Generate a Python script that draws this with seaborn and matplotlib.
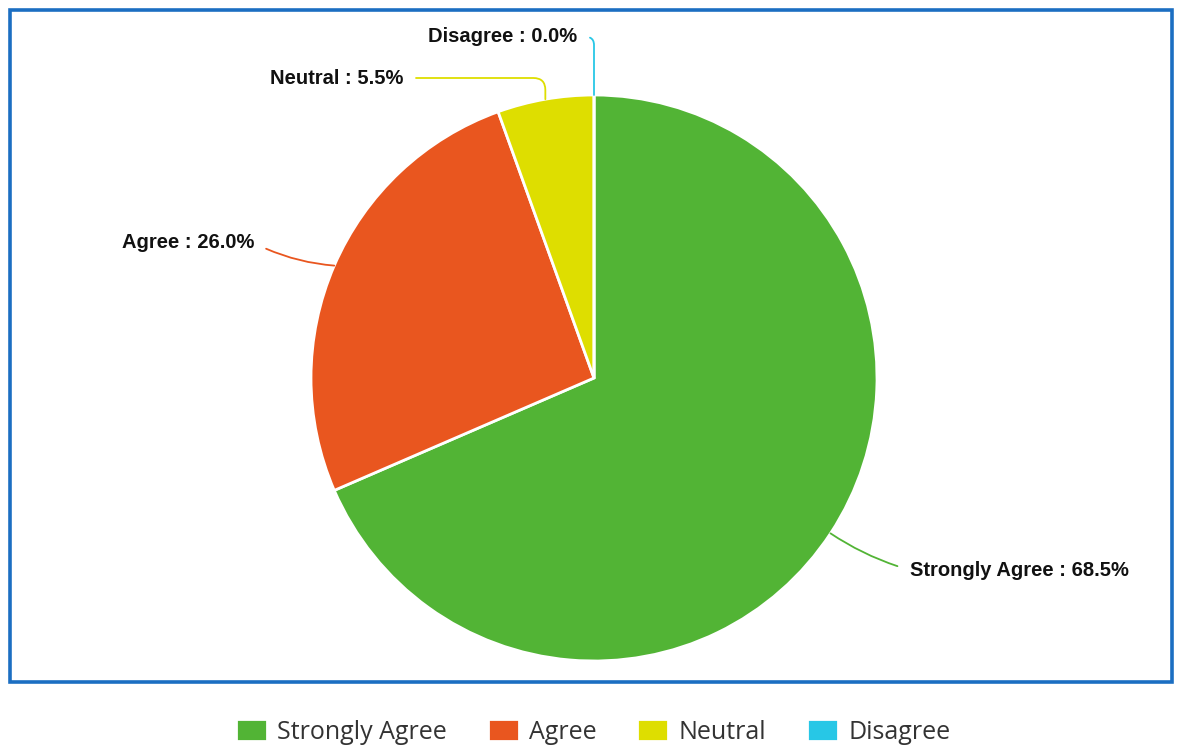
import matplotlib
matplotlib.use("Agg")
import matplotlib.pyplot as plt
import seaborn as sns
from matplotlib.patches import Rectangle
import numpy as np

sns.set_theme(style="white")
plt.rcParams['font.family'] = ['Liberation Sans', 'DejaVu Sans']

# данные
categories = ['Strongly Agree', 'Agree', 'Neutral', 'Disagree']
percents = [68.5, 26.0, 5.5, 0.0]
colors = ['#52b435', '#e9561f', '#dede00', '#27c7e6']

W, H = 1181, 749
fig = plt.figure(figsize=(W / 100, H / 100), dpi=100)
ax = fig.add_axes([0, 0, 1, 1])

cx, cy, r = 594, H - 378, 283
wedges, _ = ax.pie(percents, colors=colors, startangle=90, counterclock=False,
                   center=(cx, cy), radius=r,
                   wedgeprops=dict(edgecolor='white', linewidth=2))
ax.set_xlim(0, W)
ax.set_ylim(0, H)
ax.set_aspect('equal')
ax.axis('off')

# рамка вокруг диаграммы
ax.add_patch(Rectangle((10, H - 682), 1162, 672, fill=False,
                       edgecolor='#1b6ec2', linewidth=2.6, zorder=5))

# подписи с выносками
label_pos = [(910, H - 570, 'left'), (254, H - 243, 'right'),
             (403, H - 78, 'right'), (577, H - 37, 'right')]
conn = ['arc3,rad=-0.08', 'arc3,rad=0.1',
        'angle,angleA=0,angleB=90,rad=12', 'angle,angleA=0,angleB=90,rad=8']
for w, name, p, c, (tx, ty, ha), cs in zip(wedges, categories, percents, colors, label_pos, conn):
    ang = np.deg2rad((w.theta1 + w.theta2) / 2)
    px = cx + r * np.cos(ang)
    py = cy + r * np.sin(ang)
    relx = 0 if ha == 'left' else 1
    ax.annotate(f'{name} : {p:.1f}%', xy=(px, py), xytext=(tx, ty),
                ha=ha, va='center', fontsize=14.5, fontweight='bold', color='#111111',
                arrowprops=dict(arrowstyle='-', color=c, lw=1.3, connectionstyle=cs,
                                relpos=(relx, 0.5), shrinkA=7, shrinkB=0))

fig.legend(wedges, categories, loc='center', bbox_to_anchor=(593 / W, 1 - 732 / H),
           ncol=4, frameon=False, prop={'family': 'Open Sans', 'size': 18},
           handlelength=1.24, handleheight=0.96, handletextpad=0.4, columnspacing=1.65,
           labelcolor='#333333')

fig.savefig('out.png', dpi=100, facecolor='white')
